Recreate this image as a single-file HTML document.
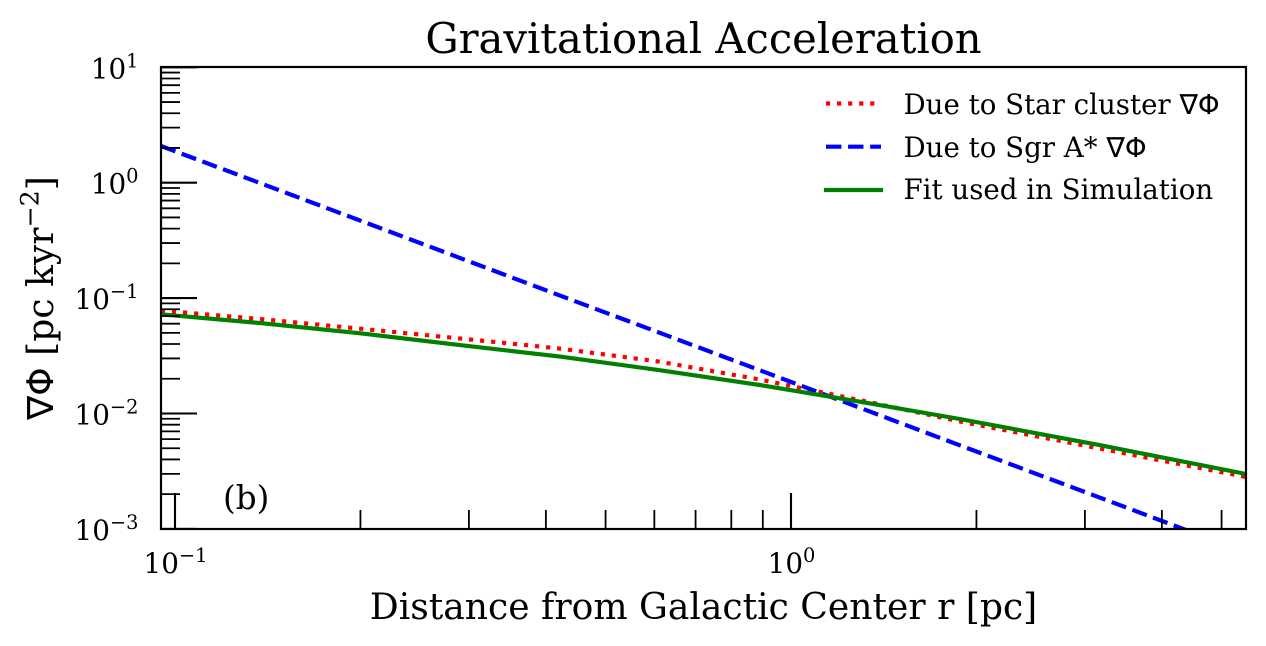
<!DOCTYPE html>
<html lang="en">
<head>
<meta charset="utf-8">
<title>Gravitational Acceleration</title>
<style>
  html, body { margin: 0; padding: 0; background: #fff; width: 1266px; height: 646px; overflow: hidden; }
  svg { display: block; }
  text { font-family: "DejaVu Serif", "Liberation Serif", serif; fill: #000; }
  .math { font-family: "DejaVu Sans", "Liberation Sans", sans-serif; }
</style>
</head>
<body>
<svg id="chart" width="1266" height="646" viewBox="0 0 1266 646" xmlns="http://www.w3.org/2000/svg">
  <defs>
    <clipPath id="plot-clip"><rect x="161" y="67" width="1085" height="462"/></clipPath>
  </defs>
  <rect x="0" y="0" width="1266" height="646" fill="#fff"/>
  <g id="series" clip-path="url(#plot-clip)"></g>
  <g id="ticks"></g>
  <rect x="161" y="67" width="1085" height="462" fill="none" stroke="#000" stroke-width="2.2"/>
  <g id="tick-labels"></g>

  <text x="703.5" y="53" text-anchor="middle" font-size="41.7">Gravitational Acceleration</text>
  <text x="703.5" y="619" text-anchor="middle" font-size="36.1">Distance from Galactic Center r [pc]</text>
  <text transform="translate(53 298) rotate(-90)" text-anchor="middle" font-size="36.1"><tspan class="math">∇Φ</tspan> [pc kyr<tspan dy="-14.5" font-size="25.3">−2</tspan><tspan dy="14.5">]</tspan></text>
  <text x="223" y="509" font-size="32.6">(b)</text>

  <g>
    <line x1="826" x2="881" y1="103.5" y2="103.5" stroke="#ff0000" stroke-width="4.17" stroke-dasharray="4.17 6.88"/>
    <text x="903.5" y="114" font-size="27.65">Due to Star cluster <tspan class="math">∇Φ</tspan></text>
    <line x1="826" x2="881" y1="146.7" y2="146.7" stroke="#0000ff" stroke-width="4.17" stroke-dasharray="15.4 6.67"/>
    <text x="903.5" y="157" font-size="27.65">Due to Sgr A* <tspan class="math">∇Φ</tspan></text>
    <line x1="826" x2="881" y1="190" y2="190" stroke="#008000" stroke-width="4.17" stroke-linecap="square"/>
    <text x="903.5" y="199" font-size="27.65">Fit used in Simulation</text>
  </g>
</svg>
<script>
// Chart data
const radiusPc = [0.0949, 0.1374, 0.2, 0.29, 0.42, 0.61, 0.89, 1.29, 1.88, 3.17, 5.48];
const starClusterValues = [0.0781, 0.0659, 0.0543, 0.0447, 0.0366, 0.0282, 0.0197, 0.0131, 0.00853, 0.00497, 0.00282];
const sgrAValues = [2.08, 0.993, 0.469, 0.223, 0.106, 0.0504, 0.0237, 0.01127, 0.0053, 0.00187, 0.000624];
const fitValues = [0.0724, 0.0608, 0.0495, 0.0392, 0.0312, 0.0238, 0.01766, 0.0127, 0.00896, 0.00533, 0.00299];
const xMajorTicks = [0.1, 1];
const xMinorTicks = [0.2, 0.3, 0.4, 0.5, 0.6, 0.7, 0.8, 0.9, 2, 3, 4, 5];
const yMajorTicks = [10, 1, 0.1, 0.01, 0.001];
const yMinorMultiples = [2, 3, 4, 5, 6, 7, 8, 9];
const xTickLabels = ['−1', '0'];
const yTickLabels = ['1', '0', '−1', '−2', '−3'];

const svgNS = 'http://www.w3.org/2000/svg';
function xScale(v) { return 791 + Math.log10(v) * 616; }
function yScale(v) { return 182.7 - Math.log10(v) * 115.4; }
function make(tag, attrs, parent) {
  const el = document.createElementNS(svgNS, tag);
  Object.keys(attrs).forEach(function (k) { el.setAttribute(k, attrs[k]); });
  parent.appendChild(el);
  return el;
}

const seriesGroup = document.getElementById('series');
const ticksGroup = document.getElementById('ticks');
const labelsGroup = document.getElementById('tick-labels');

function drawSeries(values, color, dash, name) {
  const pts = values.map(function (v, i) { return xScale(radiusPc[i]).toFixed(2) + ',' + yScale(v).toFixed(2); }).join(' ');
  const attrs = { points: pts, fill: 'none', stroke: color, 'stroke-width': 4.17, 'stroke-linejoin': 'round' };
  if (dash) attrs['stroke-dasharray'] = dash;
  const el = make('polyline', attrs, seriesGroup);
  
  
}
drawSeries(starClusterValues, '#ff0000', '4.17 6.88', 'series-star-cluster');
drawSeries(sgrAValues, '#0000ff', '15.4 6.67', 'series-sgr-a');
drawSeries(fitValues, '#008000', null, 'series-fit');

function xTick(v, len, width, name) {
  const x = xScale(v);
  const el = make('line', { x1: x, x2: x, y1: 529, y2: 529 - len, stroke: '#000', 'stroke-width': width }, ticksGroup);
  
  
}
function yTick(v, len, width, name) {
  const y = yScale(v);
  const el = make('line', { x1: 161, x2: 161 + len, y1: y, y2: y, stroke: '#000', 'stroke-width': width }, ticksGroup);
  
  
}
xMajorTicks.forEach(function (v) { xTick(v, 36, 2.1, 'x-major-tick'); });
xMinorTicks.forEach(function (v) { xTick(v, 19, 1.8, 'x-minor-tick'); });
yMajorTicks.forEach(function (v) { yTick(v, 36, 2.1, 'y-major-tick'); });
yMajorTicks.slice(1).forEach(function (decade) {
  yMinorMultiples.forEach(function (m) { yTick(decade * m, 19, 1.8, 'y-minor-tick'); });
});

function tickLabel(x, y, anchor, exponent, name) {
  const t = make('text', { x: x, y: y, 'text-anchor': anchor, 'font-size': 27.8 }, labelsGroup);
  
  
  const base = make('tspan', {}, t);
  base.textContent = '10';
  const sup = make('tspan', { dy: -11, 'font-size': 19.4 }, t);
  sup.textContent = exponent;
}
xMajorTicks.forEach(function (v, i) {
  tickLabel(xScale(v) + 0.5, 573, 'middle', xTickLabels[i], 'x-tick-label');
});
yMajorTicks.forEach(function (v, i) {
  tickLabel(138.5, yScale(v) + 11, 'end', yTickLabels[i], 'y-tick-label');
});
</script>
</body>
</html>
